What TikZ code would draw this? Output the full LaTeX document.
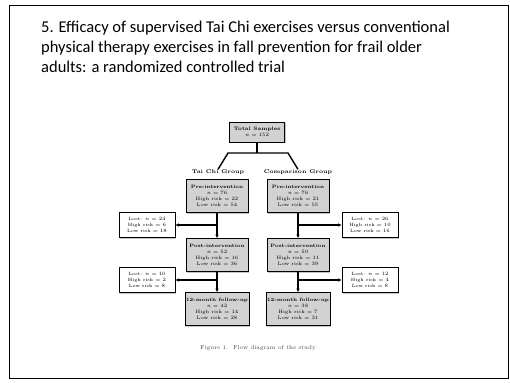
\documentclass[tikz,border=0pt]{standalone}
\usepackage{fontspec}
\usepackage{tikz}
\usetikzlibrary{arrows.meta,positioning,shadows}
\newfontfamily\slidefont{Carlito}

\begin{document}
\begin{tikzpicture}[
		x=1pt, y=-1pt,
		stagebox/.style={
			align=center, draw, fill=gray!35, line width=.6pt, font=\fontsize{4.8}{5.8}\selectfont,
			minimum width=62pt, minimum height=33pt, inner sep=1pt,
			drop shadow={shadow xshift=1.2pt, shadow yshift=-1.2pt, opacity=.45}
		},
		lossbox/.style={
			align=center, draw, fill=white, line width=.6pt, font=\fontsize{4.6}{5.6}\selectfont,
			minimum width=56pt, minimum height=25pt, inner sep=1pt,
			drop shadow={shadow xshift=1.2pt, shadow yshift=-1.2pt, opacity=.45}
		},
		group/.style={
			align=center, font=\fontsize{5.4}{6}\selectfont\bfseries, inner sep=0pt
		},
		link/.style={
			line width=1.4pt
		},
		>={Latex[length=3.5pt,width=3.5pt]},
		]
		\useasboundingbox (0,0) rectangle (510,382);
		% slide frame
		\draw[line width=.8pt] (9,5) rectangle (508,378);
		\node [anchor=north west, align=left, inner sep=0pt,
			font=\slidefont\fontsize{16.5}{20}\selectfont] (title) at (41,21)
			{5. Efficacy of supervised Tai Chi exercises versus conventional\\
			physical therapy exercises in fall prevention for frail older\\
			adults: a randomized controlled trial};
		
		% total
		\node [stagebox, minimum width=55pt, minimum height=20pt, font=\fontsize{5}{6}\selectfont] (total) at (257,132) {\textbf{Total Samples}\\$n=152$};
		
		% groups
		\node [group] (tcg) at (218,172) {Tai Chi Group};
		\node [group] (cg) at (298,172) {Comparison Group};
		\coordinate (splitL) at (228,153);
		\coordinate (splitR) at (288,153);
		\draw [link] (total.south) -- (total.south |- splitL);
		\draw [link] (tcg.north) -- (splitL) -- (splitR) -- (cg.north);
		
		% Tai Chi column
		\node [stagebox] (pre1) at (217,196) {\textbf{Pre-intervention}\\$n=76$\\High risk $=22$\\Low risk $=54$};
		\node [stagebox] (post1) at (217,255) {\textbf{Post-intervention}\\$n=52$\\High risk $=16$\\Low risk $=36$};
		\node [stagebox] (fu1) at (217,309) {\textbf{12-month follow-up}\\$n=42$\\High risk $=14$\\Low risk $=28$};
		\node [lossbox] (loss1) at (147,225) {Lost: $n=24$\\High risk $=6$\\Low risk $=18$};
		\node [lossbox] (loss2) at (147,280) {Lost: $n=10$\\High risk $=2$\\Low risk $=8$};
		
		% Comparison column
		\node [stagebox] (pre2) at (298,196) {\textbf{Pre-intervention}\\$n=76$\\High risk $=21$\\Low risk $=55$};
		\node [stagebox] (post2) at (298,255) {\textbf{Post-intervention}\\$n=50$\\High risk $=11$\\Low risk $=39$};
		\node [stagebox] (fu2) at (298,309) {\textbf{12-month follow-up}\\$n=38$\\High risk $=7$\\Low risk $=31$};
		\node [lossbox] (loss3) at (370,225) {Lost: $n=26$\\High risk $=10$\\Low risk $=16$};
		\node [lossbox] (loss4) at (370,280) {Lost: $n=12$\\High risk $=4$\\Low risk $=8$};
		
		% flow
		\draw [link,->] (pre1) -- (post1);
		\draw [link,->] (post1) -- (fu1);
		\draw [link,->] (pre2) -- (post2);
		\draw [link,->] (post2) -- (fu2);
		\draw [link,->] (pre1.south |- loss1) -- (loss1.east);
		\draw [link,->] (post1.south |- loss2) -- (loss2.east);
		\draw [link,->] (pre2.south |- loss3) -- (loss3.west);
		\draw [link,->] (post2.south |- loss4) -- (loss4.west);
		
		% caption
		\node [font=\fontsize{5.8}{6.8}\selectfont, text=black!70] (caption) at (258,348) {Figure 1.\ \ Flow diagram of the study};
		
	\end{tikzpicture}
\end{document}
